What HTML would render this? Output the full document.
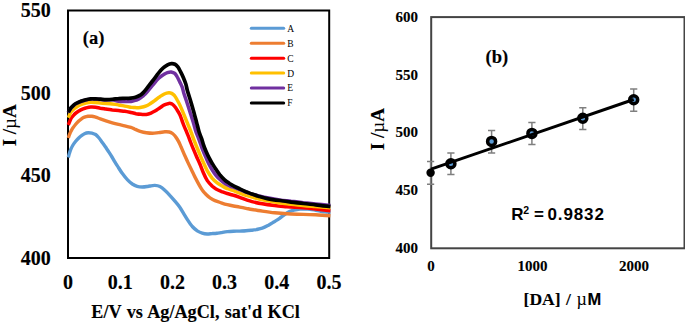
<!DOCTYPE html>
<html><head><meta charset="utf-8"><style>
html,body{margin:0;padding:0;background:#fff;width:685px;height:324px;overflow:hidden;font-family:"Liberation Serif", serif;}
svg{display:block;}
</style></head><body>
<svg width="685" height="324" viewBox="0 0 685 324">
<rect x="68" y="10.5" width="261.2" height="247.5" fill="none" stroke="#000" stroke-width="2"/>
<path d="M68.3 157.5 C68.5 156.8 69.0 154.5 69.5 153.0 C70.0 151.5 70.5 149.9 71.1 148.6 C71.7 147.3 72.3 146.2 73.0 145.0 C73.7 143.8 74.6 142.6 75.5 141.5 C76.4 140.4 77.5 139.2 78.5 138.2 C79.5 137.2 80.5 136.3 81.5 135.6 C82.5 134.8 83.4 134.2 84.5 133.7 C85.6 133.2 87.0 132.8 88.3 132.7 C89.5 132.6 90.8 132.9 92.0 133.2 C93.2 133.5 94.4 133.7 95.6 134.5 C96.8 135.3 97.9 136.7 99.0 138.0 C100.1 139.3 101.2 141.0 102.3 142.5 C103.4 144.0 104.5 145.5 105.5 147.0 C106.5 148.5 107.4 149.8 108.5 151.5 C109.6 153.2 110.9 155.2 112.0 157.0 C113.1 158.8 113.9 160.4 115.0 162.2 C116.1 164.0 117.5 166.1 118.7 168.0 C119.9 169.9 121.0 171.7 122.4 173.6 C123.8 175.5 125.6 177.9 127.3 179.6 C128.9 181.3 130.7 182.9 132.3 184.0 C134.0 185.1 135.5 185.8 137.2 186.3 C138.8 186.8 140.5 187.0 142.2 187.0 C143.8 187.0 145.8 186.7 147.1 186.5 C148.4 186.3 148.7 186.2 150.0 186.0 C151.3 185.8 153.2 185.3 154.9 185.4 C156.6 185.5 158.2 185.7 159.9 186.5 C161.6 187.3 163.2 188.7 164.8 190.2 C166.5 191.7 168.2 193.5 169.8 195.3 C171.5 197.1 173.0 198.9 174.7 200.9 C176.4 202.9 178.3 205.1 179.8 207.2 C181.3 209.3 182.4 211.5 183.7 213.6 C185.0 215.7 186.0 217.4 187.4 219.6 C188.8 221.8 190.7 224.6 192.3 226.5 C194.0 228.4 195.7 229.8 197.3 230.9 C199.0 232.0 200.5 232.6 202.2 233.1 C203.8 233.6 205.5 233.9 207.2 234.0 C208.8 234.1 210.5 233.7 212.1 233.6 C213.7 233.5 215.5 233.4 217.0 233.2 C218.5 233.0 219.5 232.9 221.2 232.6 C222.9 232.3 225.2 231.8 227.3 231.6 C229.4 231.4 231.4 231.3 233.5 231.2 C235.6 231.1 237.6 231.2 239.7 231.1 C241.8 231.0 243.8 231.0 245.9 230.8 C248.0 230.7 250.3 230.4 252.0 230.2 C253.7 230.0 254.5 229.9 256.2 229.6 C257.9 229.2 260.2 228.8 262.3 228.1 C264.4 227.4 266.4 226.3 268.5 225.2 C270.6 224.1 272.8 222.6 274.7 221.5 C276.6 220.3 278.0 219.5 279.6 218.3 C281.2 217.2 283.0 215.7 284.6 214.6 C286.2 213.5 287.9 212.4 289.5 211.6 C291.1 210.8 292.2 210.5 294.0 210.0 C295.8 209.6 298.2 209.2 300.0 209.0 C301.8 208.8 303.3 208.8 305.0 208.8 C306.7 208.9 308.3 209.0 310.0 209.2 C311.7 209.4 313.3 209.7 315.0 210.0 C316.7 210.3 318.3 210.8 320.0 211.1 C321.7 211.4 323.3 211.7 325.0 211.9 C326.7 212.1 329.5 212.2 330.4 212.3" fill="none" stroke="#5B9BD5" stroke-width="3.4" stroke-linejoin="round"/>
<path d="M68.3 138.0 C68.5 137.4 69.0 135.6 69.5 134.5 C70.0 133.4 70.4 132.3 71.0 131.2 C71.6 130.1 72.2 128.9 73.0 127.8 C73.8 126.7 74.6 125.6 75.5 124.5 C76.4 123.4 77.5 122.2 78.5 121.2 C79.5 120.2 80.5 119.5 81.5 118.8 C82.5 118.1 83.4 117.6 84.5 117.2 C85.6 116.8 86.8 116.5 88.0 116.3 C89.2 116.1 90.8 116.2 92.0 116.3 C93.2 116.4 94.1 116.7 95.5 117.1 C96.9 117.5 98.5 118.2 100.3 118.8 C102.0 119.4 104.0 120.1 106.0 120.8 C108.0 121.5 110.2 122.2 112.3 122.8 C114.4 123.4 116.4 123.9 118.5 124.4 C120.6 124.9 122.6 125.3 124.7 125.8 C126.8 126.3 129.3 126.9 130.9 127.4 C132.5 127.9 132.9 128.3 134.5 129.0 C136.1 129.7 138.2 130.7 140.2 131.3 C142.2 131.9 144.2 132.4 146.3 132.7 C148.4 133.0 150.4 133.2 152.5 133.2 C154.6 133.2 156.6 132.8 158.7 132.6 C160.8 132.4 163.1 131.9 164.9 131.8 C166.7 131.7 168.0 131.7 169.3 132.0 C170.6 132.3 171.5 132.7 172.5 133.5 C173.5 134.3 174.5 135.2 175.5 136.6 C176.5 137.9 177.6 139.7 178.5 141.4 C179.4 143.1 179.9 144.3 181.0 146.7 C182.1 149.2 183.8 153.4 185.0 156.0 C186.2 158.6 187.0 160.4 188.0 162.6 C189.0 164.7 189.9 166.5 191.1 168.9 C192.3 171.3 193.7 174.6 195.0 177.1 C196.3 179.6 197.5 181.9 198.7 184.1 C199.9 186.3 201.2 188.5 202.4 190.2 C203.6 191.9 204.8 193.2 206.1 194.5 C207.4 195.8 208.5 196.8 210.0 197.8 C211.5 198.8 213.1 199.8 215.0 200.6 C216.9 201.4 219.1 202.1 221.2 202.8 C223.2 203.5 225.2 204.2 227.3 204.7 C229.4 205.2 231.4 205.6 233.5 206.0 C235.6 206.4 237.6 206.7 239.7 207.1 C241.8 207.5 243.8 207.9 245.9 208.3 C248.0 208.7 249.3 209.0 252.0 209.5 C254.7 210.0 258.5 210.5 262.3 211.1 C266.1 211.7 270.6 212.4 274.7 212.8 C278.8 213.2 282.2 213.5 287.0 213.8 C291.8 214.1 298.5 214.2 303.3 214.4 C308.1 214.6 311.2 214.6 315.7 214.8 C320.2 215.0 327.9 215.6 330.4 215.8" fill="none" stroke="#ED7D31" stroke-width="3.4" stroke-linejoin="round"/>
<path d="M68.3 125.0 C68.7 124.0 70.1 120.3 70.9 118.7 C71.8 117.1 72.6 116.5 73.4 115.5 C74.2 114.5 74.7 113.9 75.9 113.0 C77.1 112.1 79.2 110.7 80.8 109.9 C82.4 109.1 84.1 108.5 85.8 108.0 C87.5 107.6 89.1 107.2 90.7 107.1 C92.3 107.0 94.0 107.1 95.6 107.3 C97.2 107.5 98.6 107.9 100.3 108.2 C102.0 108.4 103.8 108.7 105.8 109.0 C107.8 109.3 110.2 109.6 112.3 109.9 C114.4 110.1 116.4 110.3 118.5 110.5 C120.6 110.8 122.6 111.0 124.7 111.3 C126.8 111.6 129.0 112.1 130.9 112.5 C132.8 112.9 134.3 113.3 136.0 113.7 C137.7 114.0 139.3 114.2 141.0 114.3 C142.7 114.4 144.6 114.7 146.3 114.5 C148.0 114.3 149.6 113.7 151.0 113.1 C152.4 112.5 153.6 111.9 155.0 111.1 C156.4 110.3 158.0 109.1 159.6 108.0 C161.2 107.0 162.8 105.6 164.3 104.9 C165.9 104.1 167.7 103.6 168.9 103.4 C170.1 103.3 170.8 103.4 171.7 103.8 C172.6 104.3 173.5 105.1 174.4 106.2 C175.3 107.2 176.3 108.7 177.2 110.2 C178.1 111.6 179.2 113.3 180.0 115.0 C180.8 116.7 181.3 118.7 182.0 120.5 C182.7 122.3 183.3 124.1 184.0 125.8 C184.7 127.5 185.3 128.9 186.0 130.5 C186.7 132.1 187.2 133.5 188.0 135.4 C188.8 137.3 189.6 139.6 190.5 142.0 C191.4 144.4 192.6 147.3 193.6 149.7 C194.6 152.1 195.5 154.2 196.5 156.5 C197.5 158.8 198.7 161.0 199.8 163.8 C201.0 166.6 202.4 170.5 203.6 173.3 C204.8 176.1 205.9 178.5 207.3 180.6 C208.8 182.8 210.9 184.9 212.3 186.3 C213.8 187.7 214.4 188.1 216.0 189.0 C217.6 189.9 219.8 190.8 221.7 191.6 C223.6 192.3 225.4 193.0 227.2 193.5 C229.0 194.1 230.6 194.3 232.7 195.0 C234.8 195.6 237.5 196.5 239.7 197.3 C241.9 198.1 243.8 199.0 245.9 199.7 C248.0 200.4 249.3 200.9 252.0 201.6 C254.7 202.3 258.5 203.2 262.3 203.8 C266.1 204.5 270.6 205.1 274.7 205.6 C278.8 206.1 282.2 206.3 287.0 206.7 C291.8 207.1 298.5 207.4 303.3 207.8 C308.1 208.2 311.2 208.5 315.7 209.0 C320.2 209.5 327.9 210.4 330.4 210.7" fill="none" stroke="#FF0000" stroke-width="3.5" stroke-linejoin="round"/>
<path d="M68.3 117.7 C68.7 116.8 70.1 113.4 70.9 112.0 C71.8 110.6 72.6 110.2 73.4 109.4 C74.2 108.7 74.7 108.3 75.9 107.5 C77.1 106.7 79.2 105.4 80.8 104.7 C82.4 104.0 84.1 103.5 85.8 103.1 C87.5 102.7 89.1 102.4 90.7 102.3 C92.3 102.2 93.9 102.4 95.6 102.5 C97.2 102.7 98.9 102.9 100.6 103.1 C102.3 103.2 104.0 103.2 106.0 103.4 C108.0 103.6 110.2 103.8 112.3 104.0 C114.4 104.2 116.4 104.5 118.5 104.9 C120.6 105.2 122.6 105.7 124.7 106.1 C126.8 106.5 129.2 106.9 130.9 107.2 C132.6 107.4 133.4 107.6 135.0 107.6 C136.6 107.7 138.3 107.7 140.2 107.4 C142.1 107.1 144.6 106.6 146.3 105.9 C148.0 105.3 149.1 104.4 150.5 103.5 C151.9 102.6 153.5 101.5 155.0 100.4 C156.5 99.3 158.0 98.0 159.6 96.9 C161.2 95.9 162.8 94.7 164.3 94.0 C165.9 93.3 167.7 92.9 168.9 92.8 C170.1 92.7 170.8 93.0 171.7 93.4 C172.6 93.9 173.5 94.5 174.4 95.5 C175.3 96.6 176.3 98.3 177.2 100.0 C178.1 101.6 179.1 103.4 180.0 105.4 C180.9 107.4 181.9 109.7 182.8 111.9 C183.7 114.1 184.6 116.3 185.5 118.5 C186.4 120.7 187.4 123.1 188.3 125.3 C189.2 127.5 190.1 129.6 190.8 131.5 C191.6 133.4 192.1 135.0 192.8 137.0 C193.6 139.0 194.5 141.4 195.3 143.5 C196.2 145.6 197.0 147.6 197.9 149.7 C198.8 151.8 199.6 153.9 200.5 156.1 C201.4 158.3 202.5 160.7 203.6 163.1 C204.7 165.6 205.9 168.3 207.3 170.8 C208.8 173.4 210.7 176.3 212.3 178.3 C214.0 180.3 215.5 181.6 217.2 182.9 C218.8 184.2 220.5 185.1 222.2 186.0 C223.9 186.9 225.4 187.8 227.2 188.5 C229.0 189.3 230.7 189.6 232.8 190.4 C234.9 191.1 237.5 192.4 239.7 193.2 C241.9 194.0 243.8 194.6 245.9 195.3 C248.0 195.9 249.3 196.3 252.0 197.1 C254.7 197.8 258.5 198.9 262.3 199.7 C266.1 200.5 270.6 201.3 274.7 202.0 C278.8 202.7 282.3 203.2 287.0 203.8 C291.7 204.4 298.3 205.0 303.0 205.5 C307.7 206.0 310.4 206.2 315.0 206.6 C319.6 207.0 327.8 207.6 330.4 207.8" fill="none" stroke="#FFC000" stroke-width="3.5" stroke-linejoin="round"/>
<path d="M68.3 112.5 C68.7 111.8 70.1 109.2 70.9 108.1 C71.8 107.0 72.6 106.4 73.4 105.7 C74.2 105.0 74.7 104.5 75.9 103.8 C77.1 103.1 79.2 102.1 80.8 101.5 C82.4 100.9 84.1 100.4 85.8 100.0 C87.5 99.6 89.1 99.3 90.7 99.1 C92.3 99.0 94.0 99.1 95.6 99.1 C97.2 99.2 98.8 99.4 100.5 99.5 C102.2 99.6 104.0 99.9 106.0 99.9 C108.0 100.0 110.2 99.4 112.3 99.7 C114.4 99.9 116.4 101.0 118.5 101.3 C120.6 101.6 122.6 101.5 124.7 101.5 C126.8 101.5 129.3 101.6 130.9 101.5 C132.5 101.3 133.4 100.8 134.5 100.5 C135.6 100.2 136.6 100.0 137.5 99.6 C138.4 99.2 139.2 98.8 140.2 98.1 C141.2 97.4 142.5 96.5 143.5 95.6 C144.5 94.7 144.8 94.6 146.3 92.9 C147.8 91.2 150.4 87.8 152.5 85.4 C154.6 82.9 156.8 80.0 158.7 78.2 C160.6 76.3 162.2 75.4 163.7 74.5 C165.1 73.5 166.2 73.0 167.4 72.6 C168.6 72.2 169.9 71.8 171.1 71.9 C172.3 72.1 173.8 72.6 174.8 73.4 C175.8 74.3 176.5 75.5 177.3 77.0 C178.1 78.4 179.0 80.3 179.8 82.0 C180.6 83.7 181.5 85.3 182.2 87.2 C182.9 89.2 183.3 91.6 184.0 93.8 C184.7 96.0 185.6 98.3 186.3 100.5 C187.0 102.7 187.7 104.8 188.4 107.0 C189.1 109.2 189.9 111.8 190.6 114.0 C191.3 116.2 192.1 118.5 192.7 120.5 C193.3 122.5 193.8 124.1 194.3 126.0 C194.9 127.9 195.2 129.8 196.0 132.0 C196.8 134.2 197.9 136.7 199.0 139.5 C200.1 142.3 201.2 146.1 202.3 149.0 C203.4 151.8 204.4 154.2 205.5 156.6 C206.6 159.0 207.5 161.1 208.6 163.4 C209.7 165.6 211.1 168.1 212.3 170.1 C213.5 172.1 214.8 173.9 216.0 175.4 C217.2 176.9 218.3 178.0 219.7 179.3 C221.1 180.6 222.9 182.1 224.6 183.2 C226.2 184.3 227.9 185.0 229.6 185.8 C231.2 186.5 232.8 187.0 234.5 187.6 C236.2 188.3 237.8 188.9 239.7 189.7 C241.6 190.4 243.8 191.3 245.9 192.0 C248.0 192.8 250.0 193.4 252.0 194.1 C254.0 194.7 255.4 195.1 258.0 195.7 C260.6 196.3 263.7 197.1 267.3 197.8 C270.9 198.5 275.8 199.3 279.7 199.9 C283.6 200.5 287.1 200.8 291.0 201.3 C294.9 201.7 299.2 202.2 303.3 202.7 C307.4 203.1 311.2 203.5 315.7 203.9 C320.2 204.4 327.9 205.3 330.4 205.6" fill="none" stroke="#7030A0" stroke-width="3.5" stroke-linejoin="round"/>
<path d="M68.3 112.2 C68.7 111.5 70.1 108.9 70.9 107.8 C71.8 106.7 72.6 106.1 73.4 105.4 C74.2 104.7 74.7 104.2 75.9 103.5 C77.1 102.8 79.2 101.8 80.8 101.2 C82.4 100.6 84.1 100.1 85.8 99.7 C87.5 99.3 89.1 99.0 90.7 98.8 C92.3 98.7 94.0 98.8 95.6 98.8 C97.2 98.9 98.8 99.1 100.5 99.2 C102.2 99.3 104.0 99.6 106.0 99.6 C108.0 99.7 110.2 99.5 112.3 99.3 C114.4 99.2 116.4 98.7 118.5 98.6 C120.6 98.4 122.6 98.4 124.7 98.3 C126.8 98.2 129.1 98.4 130.9 98.2 C132.7 98.0 133.9 97.8 135.5 97.3 C137.1 96.8 138.9 96.0 140.2 95.2 C141.5 94.3 142.5 93.4 143.5 92.4 C144.5 91.4 144.8 91.0 146.3 89.1 C147.8 87.2 150.4 83.7 152.5 81.0 C154.6 78.3 156.9 75.1 158.7 72.9 C160.5 70.6 162.0 69.0 163.5 67.7 C165.0 66.3 166.3 65.5 167.6 64.8 C168.9 64.1 170.3 63.7 171.5 63.6 C172.7 63.5 173.9 63.7 175.0 64.2 C176.1 64.7 176.9 65.6 177.8 66.8 C178.7 68.1 179.6 69.9 180.5 71.6 C181.4 73.3 182.3 75.1 183.2 77.2 C184.1 79.3 185.1 81.7 185.8 84.0 C186.5 86.3 186.8 88.7 187.5 91.0 C188.2 93.3 188.9 95.5 189.7 98.0 C190.4 100.5 191.3 103.3 192.0 105.8 C192.7 108.3 193.4 110.6 194.0 112.8 C194.6 115.0 195.1 116.9 195.7 119.0 C196.3 121.1 196.8 123.3 197.4 125.5 C198.0 127.7 198.4 129.8 199.1 132.0 C199.8 134.2 200.9 136.7 201.7 138.8 C202.4 141.0 202.9 143.0 203.6 145.1 C204.3 147.2 205.1 149.2 206.0 151.3 C206.9 153.4 207.9 155.6 209.0 157.7 C210.1 159.8 211.3 162.0 212.5 163.9 C213.7 165.9 214.8 167.5 216.0 169.3 C217.2 171.1 218.3 172.8 219.7 174.6 C221.1 176.3 222.9 178.3 224.6 179.8 C226.2 181.3 228.0 182.4 229.6 183.5 C231.2 184.5 232.3 185.2 234.0 186.1 C235.7 187.0 237.7 187.9 239.7 188.8 C241.7 189.8 243.8 190.8 245.9 191.7 C248.0 192.5 249.9 193.3 252.0 194.1 C254.1 194.9 255.9 195.5 258.5 196.2 C261.1 197.0 263.8 197.9 267.3 198.6 C270.8 199.3 275.8 200.0 279.7 200.5 C283.6 201.1 287.1 201.6 291.0 202.1 C294.9 202.6 299.2 203.0 303.3 203.5 C307.4 204.0 311.2 204.3 315.7 204.8 C320.2 205.3 327.9 206.3 330.4 206.6" fill="none" stroke="#000000" stroke-width="3.7" stroke-linejoin="round"/>
<line x1="251.3" y1="28.30" x2="283.7" y2="28.30" stroke="#5B9BD5" stroke-width="3" stroke-linecap="round"/>
<text x="287.3" y="31.70" font-family='"Liberation Serif", serif' font-size="9.5" fill="#000">A</text>
<line x1="251.3" y1="43.24" x2="283.7" y2="43.24" stroke="#ED7D31" stroke-width="3" stroke-linecap="round"/>
<text x="287.3" y="46.64" font-family='"Liberation Serif", serif' font-size="9.5" fill="#000">B</text>
<line x1="251.3" y1="58.18" x2="283.7" y2="58.18" stroke="#FF0000" stroke-width="3" stroke-linecap="round"/>
<text x="287.3" y="61.58" font-family='"Liberation Serif", serif' font-size="9.5" fill="#000">C</text>
<line x1="251.3" y1="73.12" x2="283.7" y2="73.12" stroke="#FFC000" stroke-width="3" stroke-linecap="round"/>
<text x="287.3" y="76.52" font-family='"Liberation Serif", serif' font-size="9.5" fill="#000">D</text>
<line x1="251.3" y1="88.06" x2="283.7" y2="88.06" stroke="#7030A0" stroke-width="3" stroke-linecap="round"/>
<text x="287.3" y="91.46" font-family='"Liberation Serif", serif' font-size="9.5" fill="#000">E</text>
<line x1="251.3" y1="103.00" x2="283.7" y2="103.00" stroke="#000000" stroke-width="3" stroke-linecap="round"/>
<text x="287.3" y="106.40" font-family='"Liberation Serif", serif' font-size="9.5" fill="#000">F</text>
<text x="82.8" y="44" font-family='"Liberation Serif", serif' font-weight="bold" font-size="18.5" stroke="#000" stroke-width="0.15">(a)</text>
<text x="50.8" y="17.3" text-anchor="end" font-family='"Liberation Serif", serif' font-weight="bold" font-size="20" stroke="#000" stroke-width="0.15">550</text>
<text x="50.8" y="99.8" text-anchor="end" font-family='"Liberation Serif", serif' font-weight="bold" font-size="20" stroke="#000" stroke-width="0.15">500</text>
<text x="50.8" y="182.3" text-anchor="end" font-family='"Liberation Serif", serif' font-weight="bold" font-size="20" stroke="#000" stroke-width="0.15">450</text>
<text x="50.8" y="264.8" text-anchor="end" font-family='"Liberation Serif", serif' font-weight="bold" font-size="20" stroke="#000" stroke-width="0.15">400</text>
<text x="68.0" y="288.5" text-anchor="middle" font-family='"Liberation Serif", serif' font-weight="bold" font-size="20" stroke="#000" stroke-width="0.15">0</text>
<text x="120.2" y="288.5" text-anchor="middle" font-family='"Liberation Serif", serif' font-weight="bold" font-size="20" stroke="#000" stroke-width="0.15">0.1</text>
<text x="172.4" y="288.5" text-anchor="middle" font-family='"Liberation Serif", serif' font-weight="bold" font-size="20" stroke="#000" stroke-width="0.15">0.2</text>
<text x="224.6" y="288.5" text-anchor="middle" font-family='"Liberation Serif", serif' font-weight="bold" font-size="20" stroke="#000" stroke-width="0.15">0.3</text>
<text x="276.8" y="288.5" text-anchor="middle" font-family='"Liberation Serif", serif' font-weight="bold" font-size="20" stroke="#000" stroke-width="0.15">0.4</text>
<text x="329.0" y="288.5" text-anchor="middle" font-family='"Liberation Serif", serif' font-weight="bold" font-size="20" stroke="#000" stroke-width="0.15">0.5</text>
<text x="195.6" y="318.1" text-anchor="middle" font-family='"Liberation Serif", serif' font-weight="bold" font-size="18.2" word-spacing="0.8" stroke="#000" stroke-width="0.12">E/V vs Ag/AgCl, sat'd KCl</text>
<text transform="translate(16,125.3) rotate(-90)" text-anchor="middle" font-family='"Liberation Serif", serif' font-weight="bold" font-size="19" stroke="#000" stroke-width="0.12">I /<tspan font-weight="normal" stroke-width="0">µ</tspan>A</text>
<rect x="431.2" y="17.1" width="253.3" height="231.2" fill="none" stroke="#444" stroke-width="2"/>
<text x="418" y="21.9" text-anchor="end" font-family='"Liberation Serif", serif' font-weight="bold" font-size="15" stroke="#000" stroke-width="0.12">600</text>
<text x="418" y="79.7" text-anchor="end" font-family='"Liberation Serif", serif' font-weight="bold" font-size="15" stroke="#000" stroke-width="0.12">550</text>
<text x="418" y="137.4" text-anchor="end" font-family='"Liberation Serif", serif' font-weight="bold" font-size="15" stroke="#000" stroke-width="0.12">500</text>
<text x="418" y="195.2" text-anchor="end" font-family='"Liberation Serif", serif' font-weight="bold" font-size="15" stroke="#000" stroke-width="0.12">450</text>
<text x="418" y="252.9" text-anchor="end" font-family='"Liberation Serif", serif' font-weight="bold" font-size="15" stroke="#000" stroke-width="0.12">400</text>
<text x="431.0" y="271.2" text-anchor="middle" font-family='"Liberation Serif", serif' font-weight="bold" font-size="15" stroke="#000" stroke-width="0.12">0</text>
<text x="532.5" y="271.2" text-anchor="middle" font-family='"Liberation Serif", serif' font-weight="bold" font-size="15" stroke="#000" stroke-width="0.12">1000</text>
<text x="634.0" y="271.2" text-anchor="middle" font-family='"Liberation Serif", serif' font-weight="bold" font-size="15" stroke="#000" stroke-width="0.12">2000</text>
<text x="523.6" y="305.3" font-family='"Liberation Serif", serif' font-weight="bold" font-size="17.5" word-spacing="1.2" stroke="#000" stroke-width="0.12">[DA] / <tspan font-weight="normal" stroke-width="0" font-size="18">µ</tspan><tspan font-family='"Liberation Sans", sans-serif' font-size="16.5" dx="0.5">M</tspan></text>
<text transform="translate(384.4,129.2) rotate(-90)" text-anchor="middle" font-family='"Liberation Serif", serif' font-weight="bold" font-size="19" stroke="#000" stroke-width="0.12">I /<tspan font-weight="normal" stroke-width="0">µ</tspan>A</text>
<text x="485.6" y="62.6" font-family='"Liberation Serif", serif' font-weight="bold" font-size="18.5" stroke="#000" stroke-width="0.15">(b)</text>
<text y="219.5" font-family='"Liberation Sans", sans-serif' font-weight="bold" font-size="17"><tspan x="511.2">R</tspan><tspan font-size="10.5" dx="-0.2" dy="-5.3">2</tspan><tspan x="534" dy="5.3">=</tspan><tspan x="547.5" letter-spacing="0.88">0.9832</tspan></text>
<path d="M430.6 161.6 V184.2 M427.0 161.6 H434.2 M427.0 184.2 H434.2" stroke="#7F7F7F" stroke-width="1.5" fill="none"/>
<path d="M450.9 153.0 V174.6 M447.3 153.0 H454.5 M447.3 174.6 H454.5" stroke="#7F7F7F" stroke-width="1.5" fill="none"/>
<path d="M491.6 130.6 V153.0 M488.0 130.6 H495.2 M488.0 153.0 H495.2" stroke="#7F7F7F" stroke-width="1.5" fill="none"/>
<path d="M531.9 122.4 V144.4 M528.3 122.4 H535.5 M528.3 144.4 H535.5" stroke="#7F7F7F" stroke-width="1.5" fill="none"/>
<path d="M582.8 107.7 V129.6 M579.2 107.7 H586.4 M579.2 129.6 H586.4" stroke="#7F7F7F" stroke-width="1.5" fill="none"/>
<path d="M633.7 89.0 V111.3 M630.1 89.0 H637.3 M630.1 111.3 H637.3" stroke="#7F7F7F" stroke-width="1.5" fill="none"/>
<circle cx="430.6" cy="172.8" r="4.2" fill="#000"/>
<circle cx="450.9" cy="163.7" r="4" fill="#5B9BD5" stroke="#000" stroke-width="3.5"/>
<circle cx="491.6" cy="141.4" r="4" fill="#5B9BD5" stroke="#000" stroke-width="3.5"/>
<circle cx="531.9" cy="133.4" r="4" fill="#5B9BD5" stroke="#000" stroke-width="3.5"/>
<circle cx="582.8" cy="118.3" r="4" fill="#5B9BD5" stroke="#000" stroke-width="3.5"/>
<circle cx="633.7" cy="99.8" r="4" fill="#5B9BD5" stroke="#000" stroke-width="3.5"/>
<line x1="431" y1="169.2" x2="633.7" y2="99.5" stroke="#000" stroke-width="3"/>
</svg>
</body></html>
